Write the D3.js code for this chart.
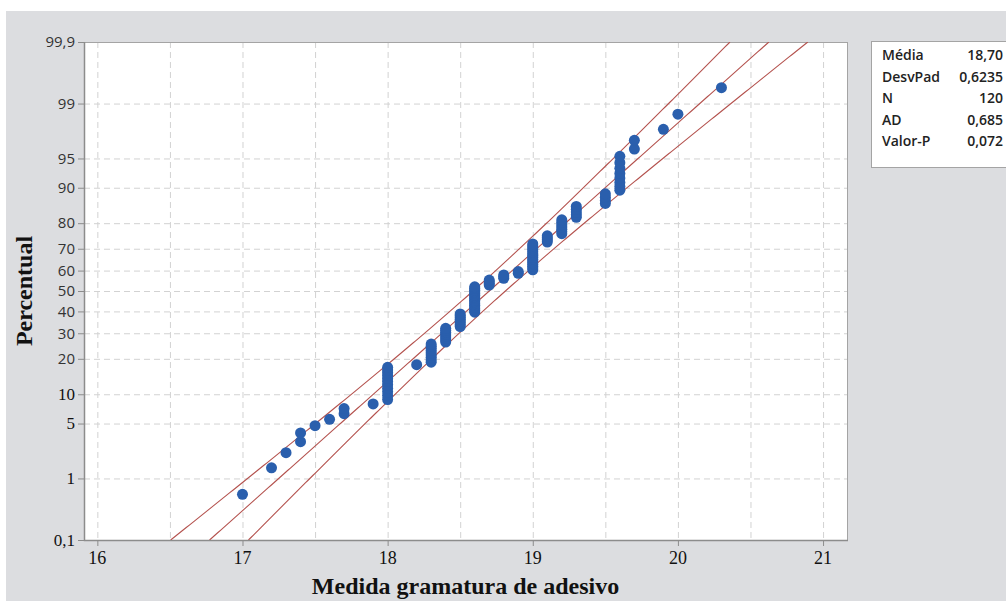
<!DOCTYPE html>
<html>
<head>
<meta charset="utf-8">
<script src="https://cdn.jsdelivr.net/npm/d3@7"></script>
<style>
  body { margin: 0; background: #fff; }
  svg { display: block; }
</style>
</head>
<body>
<svg width="1006" height="601" viewBox="0 0 1006 601"></svg>
<script>
// Measured values (gramatura) and how many times each occurs
const values = [17.0, 17.2, 17.3, 17.4, 17.5, 17.6, 17.7, 17.9, 18.0, 18.2, 18.3, 18.4, 18.5, 18.6,
    18.7, 18.8, 18.9, 19.0, 19.1, 19.2, 19.3, 19.5, 19.6, 19.7, 19.9, 20.0, 20.3];
const counts = [1, 1, 1, 2, 1, 1, 2, 1, 11, 1, 9, 8, 8, 16, 4, 3, 2, 15, 4, 7, 5, 4, 8, 2, 1, 1, 1];

const xTicks = [16, 17, 18, 19, 20, 21];
const yTicks = [0.1, 1, 5, 10, 20, 30, 40, 50, 60, 70, 80, 90, 95, 99, 99.9];

const statLabels = ["Média", "DesvPad", "N", "AD", "Valor-P"];
const statValues = ["18,70", "0,6235", "120", "0,685", "0,072"];

const mean = 18.70, sd = 0.6235, n = 120;

// inverse normal CDF (Acklam)
function probit(p) {
    const a = [-39.69683028665376, 220.9460984245205, -275.9285104469687, 138.3577518672690, -30.66479806614716, 2.506628277459239];
    const b = [-54.47609879822406, 161.5858368580409, -155.6989798598866, 66.80131188771972, -13.28068155288572];
    const c = [-0.007784894002430293, -0.3223964580411365, -2.400758277161838, -2.549732539343734, 4.374664141464968, 2.938163982698783];
    const d = [0.007784695709041462, 0.3224671290700398, 2.445134137142996, 3.754408661907416];
    const pl = 0.02425;
    if (p < pl) {
        const q = Math.sqrt(-2 * Math.log(p));
        return (((((c[0] * q + c[1]) * q + c[2]) * q + c[3]) * q + c[4]) * q + c[5]) / ((((d[0] * q + d[1]) * q + d[2]) * q + d[3]) * q + 1);
    }
    if (p > 1 - pl) {
        const q = Math.sqrt(-2 * Math.log(1 - p));
        return -(((((c[0] * q + c[1]) * q + c[2]) * q + c[3]) * q + c[4]) * q + c[5]) / ((((d[0] * q + d[1]) * q + d[2]) * q + d[3]) * q + 1);
    }
    const q = p - 0.5, r = q * q;
    return (((((a[0] * r + a[1]) * r + a[2]) * r + a[3]) * r + a[4]) * r + a[5]) * q / (((((b[0] * r + b[1]) * r + b[2]) * r + b[3]) * r + b[4]) * r + 1);
}

const fmt = v => String(v).replace(".", ",");

const svg = d3.select("svg");
const pLeft = 84, pRight = 847, pTop = 42, pBottom = 540;

const zMin = probit(0.001), zMax = probit(0.999);
const x = d3.scaleLinear().domain([15.908, 21.165]).range([pLeft, pRight]);
const y = d3.scaleLinear().domain([zMin, zMax]).range([pBottom, pTop]);

// backgrounds
svg.append("rect").attr("x", 6).attr("y", 11).attr("width", 1000).attr("height", 590).attr("fill", "#dcdde0");
svg.append("rect").attr("x", pLeft).attr("y", pTop).attr("width", pRight - pLeft).attr("height", pBottom - pTop).attr("fill", "#fff");

// grid
const grid = svg.append("g").attr("stroke", "#d2d2d2").attr("stroke-dasharray", "6,4").attr("stroke-width", 1);
grid.selectAll("line.v")
    .data(d3.range(16, 21.01, 0.5))
    .enter().append("line")
    .attr("x1", d => x(d) + 0.5).attr("x2", d => x(d) + 0.5)
    .attr("y1", pTop).attr("y2", pBottom);
grid.selectAll("line.h")
    .data(yTicks.slice(1, -1))
    .enter().append("line")
    .attr("x1", pLeft).attr("x2", pRight)
    .attr("y1", d => y(probit(d / 100)) + 0.5).attr("y2", d => y(probit(d / 100)) + 0.5);

// frame
svg.append("rect").attr("x", pLeft + 0.5).attr("y", pTop + 0.5)
    .attr("width", pRight - pLeft).attr("height", pBottom - pTop)
    .attr("fill", "none").attr("stroke", "#a4a4a4");
svg.append("path").attr("d", `M${pLeft + 0.5},${pTop}V${pBottom + 0.5}H${pRight + 1}`)
    .attr("fill", "none").attr("stroke", "#8c8c8c").attr("stroke-width", 1.5);

// y ticks
const yAxis = svg.append("g");
yTicks.forEach(t => {
    const yy = y(probit(t / 100));
    yAxis.append("line").attr("x1", pLeft - 6).attr("x2", pLeft).attr("y1", yy + 0.5).attr("y2", yy + 0.5)
        .attr("stroke", "#8c8c8c");
    const serif = t <= 10;
    yAxis.append("text")
        .attr("x", pLeft - 9).attr("y", yy).attr("dy", "0.35em")
        .attr("text-anchor", "end")
        .attr("font-family", serif ? "Liberation Serif, serif" : "Open Sans, sans-serif")
        .attr("font-size", serif ? 17 : 15)
        .attr("fill", serif ? "#111" : "#333")
        .text(fmt(t));
});

// x ticks
const xAxis = svg.append("g");
xTicks.forEach(t => {
    xAxis.append("line").attr("x1", x(t) + 0.5).attr("x2", x(t) + 0.5).attr("y1", pBottom).attr("y2", pBottom + 6)
        .attr("stroke", "#8c8c8c");
    xAxis.append("text")
        .attr("x", x(t)).attr("y", 564)
        .attr("text-anchor", "middle")
        .attr("font-family", "Liberation Serif, serif")
        .attr("font-size", 18)
        .attr("fill", "#111")
        .text(t);
});

// axis titles
svg.append("text")
    .attr("transform", `translate(32,${(pTop + pBottom) / 2}) rotate(-90)`)
    .attr("text-anchor", "middle")
    .attr("font-family", "Liberation Serif, serif").attr("font-weight", "bold").attr("font-size", 24)
    .attr("fill", "#111")
    .text("Percentual");
svg.append("text")
    .attr("x", (pLeft + pRight) / 2).attr("y", 594)
    .attr("text-anchor", "middle")
    .attr("font-family", "Liberation Serif, serif").attr("font-weight", "bold").attr("font-size", 24)
    .attr("fill", "#111")
    .text("Medida gramatura de adesivo");

// fitted line and 95% confidence bounds
svg.append("clipPath").attr("id", "plotClip")
    .append("rect").attr("x", pLeft).attr("y", pTop).attr("width", pRight - pLeft).attr("height", pBottom - pTop);

const zs = d3.range(zMin, zMax + 0.001, (zMax - zMin) / 200);
const half = z => 1.96 * sd * Math.sqrt(1 / n + z * z / (2 * n));
const line = d3.line().x(d => x(d[0])).y(d => y(d[1]));
const fitLines = [
    zs.map(z => [mean + z * sd - half(z), z]),
    zs.map(z => [mean + z * sd, z]),
    zs.map(z => [mean + z * sd + half(z), z])
];
svg.append("g").attr("clip-path", "url(#plotClip)")
    .selectAll("path")
    .data(fitLines)
    .enter().append("path")
    .attr("d", line)
    .attr("fill", "none")
    .attr("stroke", "#b4524e")
    .attr("stroke-width", 1.1);

// points at median ranks
const points = [];
values.forEach((v, k) => {
    for (let j = 0; j < counts[k]; j++) points.push(v);
});
svg.append("g")
    .selectAll("circle")
    .data(points)
    .enter().append("circle")
    .attr("cx", d => x(d))
    .attr("cy", (d, i) => y(probit((i + 1 - 0.3) / (n + 0.4))))
    .attr("r", 5.5)
    .attr("fill", "#2a5fad");

// stats box
const box = svg.append("g");
box.append("rect").attr("x", 871.5).attr("y", 41.5).attr("width", 150).attr("height", 126)
    .attr("fill", "#fff").attr("stroke", "#a4a4a4");
statLabels.forEach((lab, i) => {
    const yy = 55.5 + i * 21.5;
    box.append("text").attr("x", 882).attr("y", yy).attr("dy", "0.35em")
        .attr("font-family", "Open Sans, sans-serif").attr("font-weight", 600).attr("font-size", 14)
        .attr("fill", "#222").text(lab);
    box.append("text").attr("x", 1003).attr("y", yy).attr("dy", "0.35em")
        .attr("text-anchor", "end")
        .attr("font-family", "Open Sans, sans-serif").attr("font-weight", 600).attr("font-size", 14)
        .attr("fill", "#222").text(statValues[i]);
});
</script>
</body>
</html>
